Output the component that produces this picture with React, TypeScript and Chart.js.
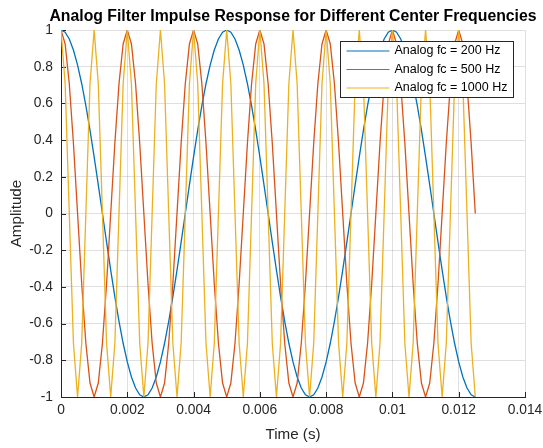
import React, { useEffect, useRef } from "react";
import { Chart, registerables } from "chart.js";

Chart.register(...registerables);

const timeS = [
  0, 0.000125, 0.00025, 0.000375, 0.0005, 0.000625, 0.00075, 0.000875, 0.001, 0.001125,
  0.00125, 0.001375, 0.0015, 0.001625, 0.00175, 0.001875, 0.002, 0.002125, 0.00225, 0.002375,
  0.0025, 0.002625, 0.00275, 0.002875, 0.003, 0.003125, 0.00325, 0.003375, 0.0035, 0.003625,
  0.00375, 0.003875, 0.004, 0.004125, 0.00425, 0.004375, 0.0045, 0.004625, 0.00475, 0.004875,
  0.005, 0.005125, 0.00525, 0.005375, 0.0055, 0.005625, 0.00575, 0.005875, 0.006, 0.006125,
  0.00625, 0.006375, 0.0065, 0.006625, 0.00675, 0.006875, 0.007, 0.007125, 0.00725, 0.007375,
  0.0075, 0.007625, 0.00775, 0.007875, 0.008, 0.008125, 0.00825, 0.008375, 0.0085, 0.008625,
  0.00875, 0.008875, 0.009, 0.009125, 0.00925, 0.009375, 0.0095, 0.009625, 0.00975, 0.009875,
  0.01, 0.010125, 0.01025, 0.010375, 0.0105, 0.010625, 0.01075, 0.010875, 0.011, 0.011125,
  0.01125, 0.011375, 0.0115, 0.011625, 0.01175, 0.011875, 0.012, 0.012125, 0.01225, 0.012375,
  0.0125,
];

const fc200 = [
  1, 0.9877, 0.9511, 0.891, 0.809, 0.7071, 0.5878, 0.454, 0.309, 0.1564,
  0, -0.1564, -0.309, -0.454, -0.5878, -0.7071, -0.809, -0.891, -0.9511, -0.9877,
  -1, -0.9877, -0.9511, -0.891, -0.809, -0.7071, -0.5878, -0.454, -0.309, -0.1564,
  0, 0.1564, 0.309, 0.454, 0.5878, 0.7071, 0.809, 0.891, 0.9511, 0.9877,
  1, 0.9877, 0.9511, 0.891, 0.809, 0.7071, 0.5878, 0.454, 0.309, 0.1564,
  0, -0.1564, -0.309, -0.454, -0.5878, -0.7071, -0.809, -0.891, -0.9511, -0.9877,
  -1, -0.9877, -0.9511, -0.891, -0.809, -0.7071, -0.5878, -0.454, -0.309, -0.1564,
  0, 0.1564, 0.309, 0.454, 0.5878, 0.7071, 0.809, 0.891, 0.9511, 0.9877,
  1, 0.9877, 0.9511, 0.891, 0.809, 0.7071, 0.5878, 0.454, 0.309, 0.1564,
  0, -0.1564, -0.309, -0.454, -0.5878, -0.7071, -0.809, -0.891, -0.9511, -0.9877,
  -1,
];

const fc500 = [
  1, 0.9239, 0.7071, 0.3827, 0, -0.3827, -0.7071, -0.9239, -1, -0.9239, -0.7071, -0.3827, 0, 0.3827, 0.7071, 0.9239,
  1, 0.9239, 0.7071, 0.3827, 0, -0.3827, -0.7071, -0.9239, -1, -0.9239, -0.7071, -0.3827, 0, 0.3827, 0.7071, 0.9239,
  1, 0.9239, 0.7071, 0.3827, 0, -0.3827, -0.7071, -0.9239, -1, -0.9239, -0.7071, -0.3827, 0, 0.3827, 0.7071, 0.9239,
  1, 0.9239, 0.7071, 0.3827, 0, -0.3827, -0.7071, -0.9239, -1, -0.9239, -0.7071, -0.3827, 0, 0.3827, 0.7071, 0.9239,
  1, 0.9239, 0.7071, 0.3827, 0, -0.3827, -0.7071, -0.9239, -1, -0.9239, -0.7071, -0.3827, 0, 0.3827, 0.7071, 0.9239,
  1, 0.9239, 0.7071, 0.3827, 0, -0.3827, -0.7071, -0.9239, -1, -0.9239, -0.7071, -0.3827, 0, 0.3827, 0.7071, 0.9239,
  1, 0.9239, 0.7071, 0.3827, 0,
];

const fc1000 = [
  1, 0.7071, 0, -0.7071, -1, -0.7071, 0, 0.7071,
  1, 0.7071, 0, -0.7071, -1, -0.7071, 0, 0.7071,
  1, 0.7071, 0, -0.7071, -1, -0.7071, 0, 0.7071,
  1, 0.7071, 0, -0.7071, -1, -0.7071, 0, 0.7071,
  1, 0.7071, 0, -0.7071, -1, -0.7071, 0, 0.7071,
  1, 0.7071, 0, -0.7071, -1, -0.7071, 0, 0.7071,
  1, 0.7071, 0, -0.7071, -1, -0.7071, 0, 0.7071,
  1, 0.7071, 0, -0.7071, -1, -0.7071, 0, 0.7071,
  1, 0.7071, 0, -0.7071, -1, -0.7071, 0, 0.7071,
  1, 0.7071, 0, -0.7071, -1, -0.7071, 0, 0.7071,
  1, 0.7071, 0, -0.7071, -1, -0.7071, 0, 0.7071,
  1, 0.7071, 0, -0.7071, -1, -0.7071, 0, 0.7071,
  1, 0.7071, 0, -0.7071, -1,
];

const seriesLabels = ["Analog fc = 200 Hz", "Analog fc = 500 Hz", "Analog fc = 1000 Hz"];
const seriesColors = ["#0072BD", "#D95319", "#EDB120"];

const xTickValues = [0, 0.002, 0.004, 0.006, 0.008, 0.01, 0.012, 0.014];
const xTickLabels = ["0", "0.002", "0.004", "0.006", "0.008", "0.01", "0.012", "0.014"];
const yTickValues = [-1, -0.8, -0.6, -0.4, -0.2, 0, 0.2, 0.4, 0.6, 0.8, 1];
const yTickLabels = ["-1", "-0.8", "-0.6", "-0.4", "-0.2", "0", "0.2", "0.4", "0.6", "0.8", "1"];

const titleText = "Analog Filter Impulse Response for Different Center Frequencies";
const xAxisTitle = "Time (s)";
const yAxisTitle = "Amplitude";

const FONT = "'Liberation Sans', Arial, Helvetica, sans-serif";
const AXIS_COLOR = "#262626";
const GRID_COLOR = "rgba(38,38,38,0.15)";

const decorPlugin = {
  id: "matlabDecor",
  beforeDatasetsDraw(chart: any) {
    const { ctx, chartArea } = chart;
    const xs = chart.scales.x;
    const ys = chart.scales.y;
    ctx.save();
    ctx.strokeStyle = AXIS_COLOR;
    ctx.lineWidth = 1;
    ctx.beginPath();
    xTickValues.forEach((v) => {
      const px = Math.round(xs.getPixelForValue(v)) + 0.5;
      ctx.moveTo(px, chartArea.bottom);
      ctx.lineTo(px, chartArea.bottom - 5);
    });
    yTickValues.forEach((v) => {
      const py = Math.round(ys.getPixelForValue(v)) + 0.5;
      ctx.moveTo(chartArea.left, py);
      ctx.lineTo(chartArea.left + 5, py);
    });
    ctx.stroke();
    ctx.restore();
  },
  afterDraw(chart: any) {
    const { ctx, chartArea } = chart;
    ctx.save();
    // title
    ctx.fillStyle = "#000000";
    ctx.font = `bold 15.8px ${FONT}`;
    ctx.textAlign = "center";
    ctx.textBaseline = "middle";
    ctx.fillText(titleText, (chartArea.left + chartArea.right) / 2, 17);
    // axis titles
    ctx.fillStyle = AXIS_COLOR;
    ctx.font = `15.2px ${FONT}`;
    ctx.fillText(xAxisTitle, (chartArea.left + chartArea.right) / 2, 435);
    ctx.save();
    ctx.translate(17, (chartArea.top + chartArea.bottom) / 2);
    ctx.rotate(-Math.PI / 2);
    ctx.fillText(yAxisTitle, 0, 0);
    ctx.restore();

    // legend
    const datasets = chart.data.datasets;
    ctx.font = `12.5px ${FONT}`;
    let maxW = 0;
    datasets.forEach((d: any) => {
      maxW = Math.max(maxW, ctx.measureText(d.label).width);
    });
    const padL = 6, lineLen = 43, gap = 5, padR = 7, rowH = 18.5, padT = 9.5;
    const boxW = padL + lineLen + gap + maxW + padR;
    const boxH = padT * 2 + rowH * (datasets.length - 1);
    const right = Math.round(chartArea.right - 12) + 0.5;
    const top = Math.round(chartArea.top + 11) + 0.5;
    const left = Math.round(right - boxW) + 0.5;
    const h = Math.round(boxH);
    ctx.fillStyle = "#ffffff";
    ctx.fillRect(left, top, right - left, h);
    ctx.strokeStyle = AXIS_COLOR;
    ctx.lineWidth = 1;
    ctx.strokeRect(left, top, right - left, h);
    datasets.forEach((d: any, i: number) => {
      const cy = top + padT + rowH * i;
      ctx.strokeStyle = d.borderColor;
      ctx.lineWidth = 1.2;
      ctx.beginPath();
      ctx.moveTo(left + padL, cy);
      ctx.lineTo(left + padL + lineLen, cy);
      ctx.stroke();
      ctx.fillStyle = "#000000";
      ctx.textAlign = "left";
      ctx.textBaseline = "middle";
      ctx.fillText(d.label, left + padL + lineLen + gap, cy);
    });
    ctx.restore();
  },
};

export default function App() {
  const canvasRef = useRef<HTMLCanvasElement | null>(null);

  useEffect(() => {
    const canvas = canvasRef.current;
    if (!canvas) return;
    const series = [fc200, fc500, fc1000];
    const chart = new Chart(canvas, {
      type: "line",
      data: {
        datasets: series.map((vals, i) => ({
          label: seriesLabels[i],
          data: timeS.map((t, k) => ({ x: t, y: vals[k] })),
          borderColor: seriesColors[i],
          backgroundColor: seriesColors[i],
          borderWidth: 1.3,
          pointRadius: 0,
          tension: 0,
          fill: false,
          order: 2 - i,
        })),
      },
      options: {
        responsive: false,
        animation: false,
        devicePixelRatio: 1,
        layout: { padding: { top: 30, right: 18, left: 0, bottom: 0 } },
        plugins: {
          legend: { display: false },
          title: { display: false },
          tooltip: { enabled: false },
        },
        scales: {
          x: {
            type: "linear",
            min: 0,
            max: 0.014,
            afterBuildTicks: (s: any) => {
              s.ticks = xTickValues.map((v) => ({ value: v }));
            },
            afterFit: (s: any) => {
              s.height = 51;
              s.paddingLeft = 0;
              s.paddingRight = 0;
            },
            ticks: {
              autoSkip: false,
              maxRotation: 0,
              padding: 5,
              color: AXIS_COLOR,
              font: { family: FONT, size: 13.8 },
              callback: (_v: any, i: number) => xTickLabels[i],
            },
            grid: { color: GRID_COLOR, drawTicks: false, lineWidth: 1 },
            border: { display: true, color: AXIS_COLOR, width: 1 },
          },
          y: {
            type: "linear",
            min: -1,
            max: 1,
            afterBuildTicks: (s: any) => {
              s.ticks = yTickValues.map((v) => ({ value: v }));
            },
            afterFit: (s: any) => {
              s.width = 61;
              s.paddingTop = 0;
              s.paddingBottom = 0;
            },
            ticks: {
              autoSkip: false,
              padding: 8,
              color: AXIS_COLOR,
              font: { family: FONT, size: 13.8 },
              callback: (_v: any, i: number) => yTickLabels[i],
            },
            grid: { color: GRID_COLOR, drawTicks: false, lineWidth: 1 },
            border: { display: true, color: AXIS_COLOR, width: 1 },
          },
        },
      },
      plugins: [decorPlugin],
    } as any);
    return () => chart.destroy();
  }, []);

  return (
    <div style={{ position: "fixed", left: 0, top: 0, width: 543, height: 448, background: "#ffffff" }}>
      <canvas ref={canvasRef} width={543} height={448} style={{ display: "block", width: 543, height: 448 }} />
    </div>
  );
}
